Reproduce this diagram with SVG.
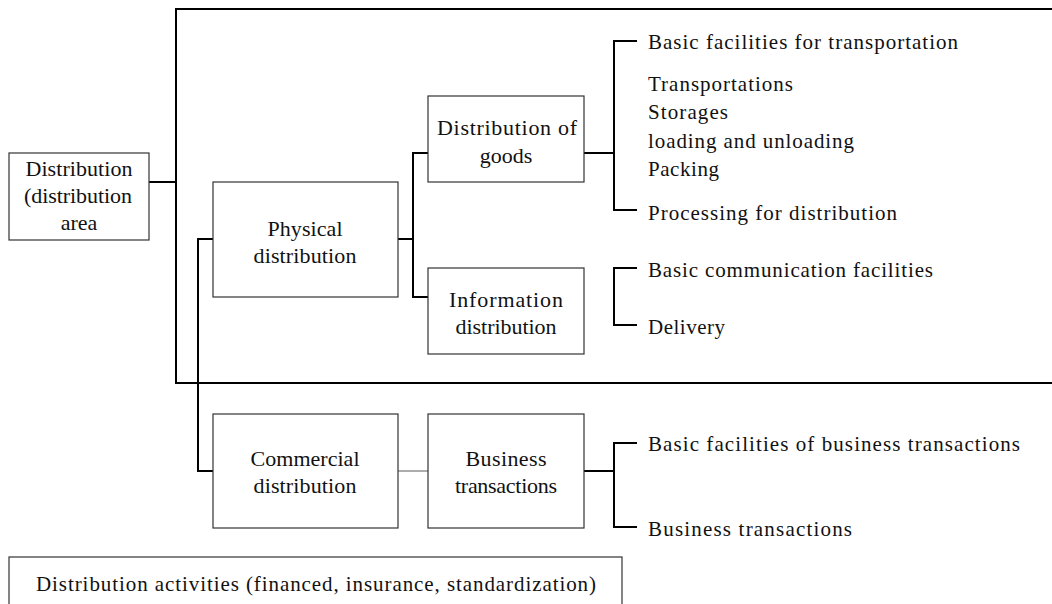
<svg xmlns="http://www.w3.org/2000/svg" width="1052" height="604" viewBox="0 0 1052 604">
<style>
.box{fill:#fff;stroke:#333;stroke-width:1.2}
.ln{fill:none;stroke:#000;stroke-width:2}
.thin{fill:none;stroke:#777;stroke-width:1.2}
text{font-family:"Liberation Serif","DejaVu Serif",serif;font-size:21px;fill:#111}
.c{text-anchor:middle;font-size:22px}
</style>
<rect width="1052" height="604" fill="#fff"/>
<g id="connectors">
<path class="ln" d="M149,182 H176 M1052,9 H176 V383 H1052"/>
<path class="ln" d="M213,239 H198 V471 H213"/>
<path class="ln" d="M398,239 H413 M428,153 H413 V297 H428"/>
<path class="ln" d="M584,153 H614 M637,41 H614 V210 H637"/>
<path class="ln" d="M637,268 H614 V325 H637"/>
<path class="thin" d="M398,471 H428"/>
<path class="ln" d="M584,471 H614 M637,443 H614 V527 H637"/>
</g>
<g id="n-distribution"><rect class="box" x="9" y="153" width="140" height="87"/>
<text class="c" x="79" y="176" textLength="107">Distribution</text><text class="c" x="78" y="203" textLength="108">(distribution</text><text class="c" x="79" y="230">area</text></g>
<g id="n-physical"><rect class="box" x="213" y="182" width="185" height="115"/>
<text class="c" x="305" y="236" textLength="75">Physical</text><text class="c" x="305" y="263" textLength="103">distribution</text></g>
<g id="n-goods"><rect class="box" x="428" y="96" width="156" height="86"/>
<text class="c" x="507" y="135" textLength="140">Distribution of</text><text class="c" x="506" y="163">goods</text></g>
<g id="n-info"><rect class="box" x="428" y="268" width="156" height="86"/>
<text class="c" x="506" y="307" textLength="114">Information</text><text class="c" x="506" y="334" textLength="101">distribution</text></g>
<g id="n-commercial"><rect class="box" x="213" y="414" width="185" height="114"/>
<text class="c" x="305" y="466" textLength="109">Commercial</text><text class="c" x="305" y="493" textLength="103">distribution</text></g>
<g id="n-business"><rect class="box" x="428" y="414" width="156" height="114"/>
<text class="c" x="506" y="466" textLength="81">Business</text><text class="c" x="506" y="493" textLength="102">transactions</text></g>
<g id="n-goods-items">
<text x="648" y="49" textLength="310">Basic facilities for transportation</text>
<text x="648" y="91" textLength="145">Transportations</text>
<text x="648" y="119" textLength="80">Storages</text>
<text x="648" y="148" textLength="206">loading and unloading</text>
<text x="648" y="176" textLength="71">Packing</text>
<text x="648" y="220" textLength="249">Processing for distribution</text>
</g>
<g id="n-info-items">
<text x="648" y="277" textLength="285">Basic communication facilities</text>
<text x="648" y="334" textLength="77">Delivery</text>
</g>
<g id="n-business-items">
<text x="648" y="451" textLength="372">Basic facilities of business transactions</text>
<text x="648" y="536" textLength="204">Business transactions</text>
</g>
<g id="n-activities"><rect class="box" x="9" y="557" width="613" height="60"/>
<text x="36" y="591" textLength="560">Distribution activities (financed, insurance, standardization)</text></g>
</svg>
